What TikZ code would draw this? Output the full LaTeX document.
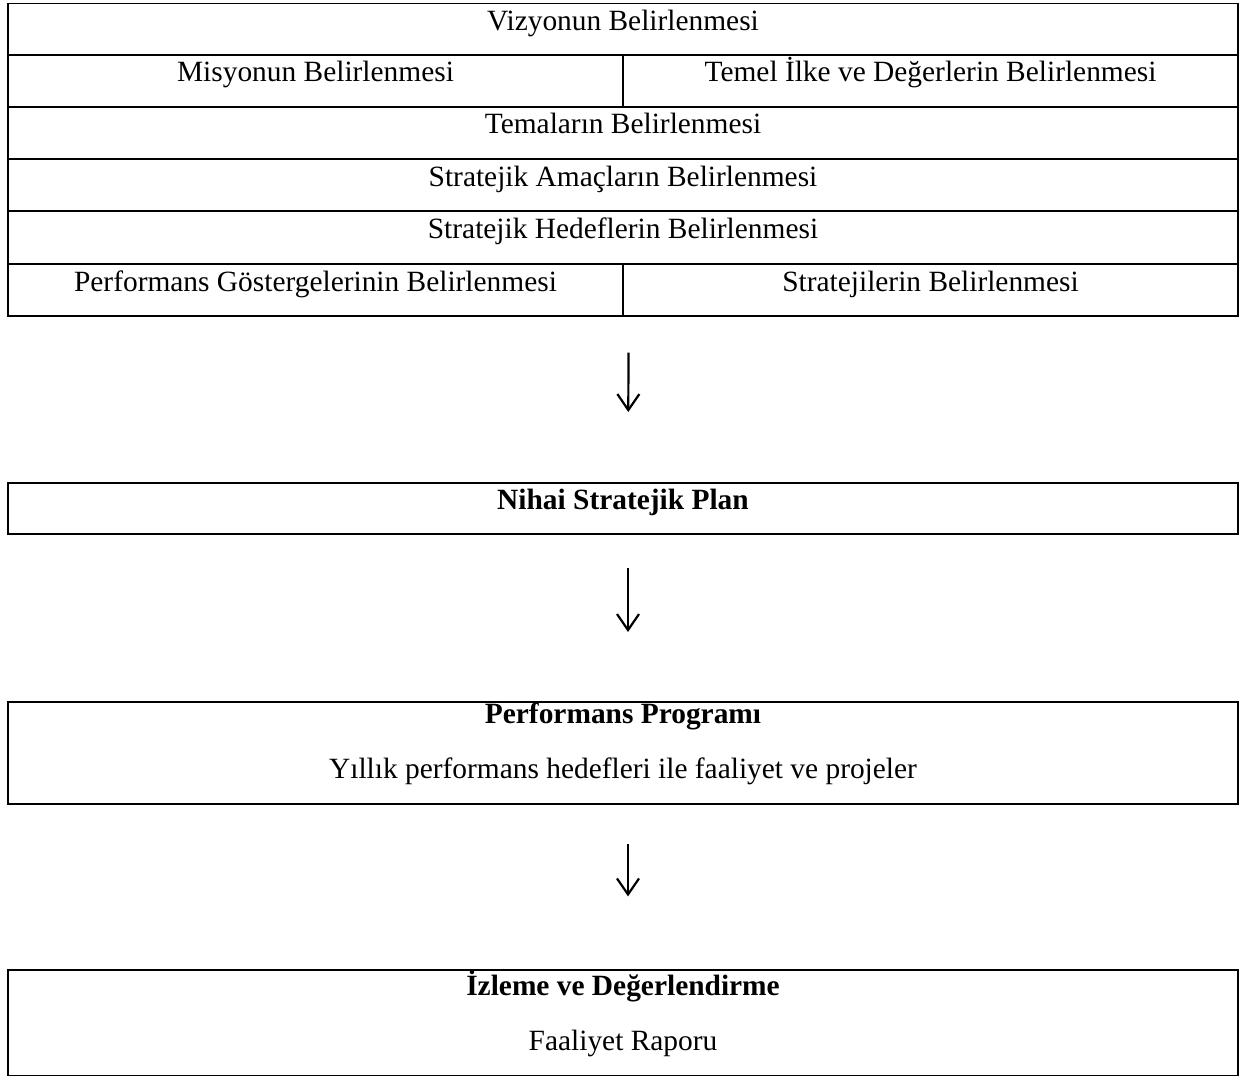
\documentclass[tikz,border=0pt]{standalone}
\usepackage{fontspec}
\setmainfont{Liberation Serif}
\usetikzlibrary{arrows.meta}

\begin{document}
\begin{tikzpicture}[x=0.5pt, y=-0.5pt, font=\fontsize{14.7pt}{17pt}\selectfont,
		cell/.style={draw, line width=0.65pt, inner sep=0pt, minimum height=26pt, text height=10pt, text depth=9pt},
		full/.style={cell, minimum width=615pt},
		half/.style={cell, minimum width=307.5pt},
		box/.style={draw, line width=1pt, inner sep=0pt, minimum width=615pt, align=center},
		arr/.style={line width=1.1pt, -{Straight Barb[length=8pt, width=11pt]}}]
			%%%%% START %%%%%
			
			\useasboundingbox (0, 0) rectangle (1245, 1075);
			
			% table
			\node[full] (viz) at (623, 29.5) {Vizyonun Belirlenmesi};
			\node[half] (mis) at (315.5, 81) {Misyonun Belirlenmesi};
			\node[half] (ilk) at (930.5, 81) {Temel İlke ve Değerlerin Belirlenmesi};
			\node[full] (tem) at (623, 133) {Temaların Belirlenmesi};
			\node[full] (amc) at (623, 185) {Stratejik Amaçların Belirlenmesi};
			\node[full] (hdf) at (623, 237.5) {Stratejik Hedeflerin Belirlenmesi};
			\node[half] (gst) at (315.5, 290) {Performans Göstergelerinin Belirlenmesi};
			\node[half] (str) at (930.5, 290) {Stratejilerin Belirlenmesi};
			
			% plan boxes
			\node[box, minimum height=25.5pt, text height=10pt, text depth=9pt] (nsp) at (623, 508.5) {\textbf{Nihai Stratejik Plan}};
			\node[box, minimum height=51pt] (prg) at (623, 753) {\rule{0pt}{10pt}\textbf{Performans Programı}\\[10.5pt]Yıllık performans hedefleri ile faaliyet ve projeler\rule[-12.5pt]{0pt}{0pt}};
			\node[box, minimum height=51pt] (izl) at (623, 1023) {\rule{0pt}{10pt}\textbf{İzleme ve Değerlendirme}\\[10.5pt]Faaliyet Raporu\rule[-12.5pt]{0pt}{0pt}};
			
			% arrows
			\draw[arr, shorten <=18pt, shorten >=35pt] ([xshift=2.5pt]gst.south east) -- ([xshift=2.5pt]nsp.north);
			\draw[arr, shorten <=16.5pt, shorten >=34.5pt] ([xshift=2.5pt]nsp.south) -- ([xshift=2.5pt]prg.north);
			\draw[arr, shorten <=19.5pt, shorten >=36.5pt] ([xshift=2.5pt]prg.south) -- ([xshift=2.5pt]izl.north);
			
			%%%%% END %%%%%
		\end{tikzpicture}
\end{document}
